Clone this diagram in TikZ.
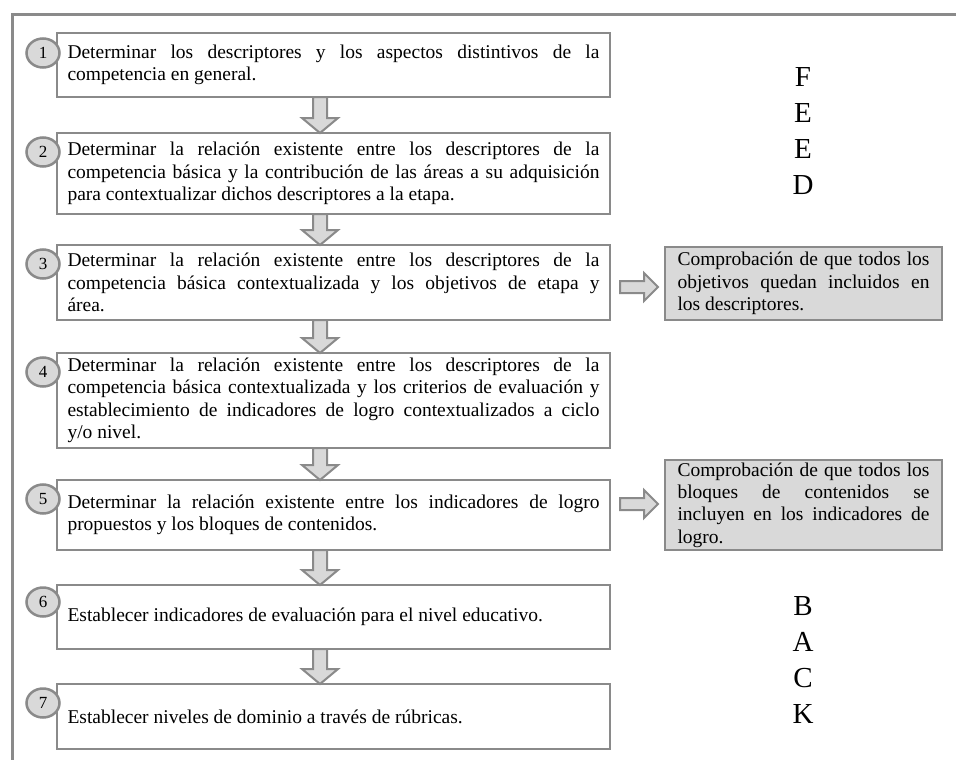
\documentclass[tikz,border=0pt]{standalone}
\usepackage{fontspec}
\setmainfont{Liberation Serif}
\usetikzlibrary{shapes.geometric,calc}
\definecolor{edgegray}{HTML}{8A8A8A}
\definecolor{fillgray}{HTML}{D9D9D9}
\newcommand\mainfs{\fontsize{19.5}{22.4}\selectfont\hyphenpenalty=10000\tolerance=10000\emergencystretch=20pt}
\tikzset{
  stepbox/.style={draw=edgegray, line width=2.6pt, fill=white, text width=532pt,
    inner xsep=10.5pt, inner ysep=0pt, outer sep=0pt, align=justify, font=\mainfs},
  sidebox/.style={draw=edgegray, line width=2.6pt, fill=fillgray, text width=252pt,
    minimum width=277pt, inner xsep=12.5pt, inner ysep=0pt, outer sep=0pt, align=justify, font=\mainfs},
  numdot/.style={ellipse, draw=edgegray, line width=2.5pt, fill=fillgray, minimum width=33pt,
    minimum height=29pt, inner sep=0pt, font=\fontsize{17}{17}\selectfont},
  blockarrow/.style={draw=edgegray, fill=fillgray, line width=2pt, line join=miter},
  frameline/.style={draw=edgegray, line width=3pt},
  bigletters/.style={align=center, font=\fontsize{29}{36}\selectfont, inner sep=0pt}
}
\newcommand\vblock[2]{%
  \path (#1.south -| ax) coordinate (vt) (#2.north -| ax) coordinate (vb);
  \draw[blockarrow] ($(vt)+(-7,0)$) -- ($(vb)+(-7,-15)$) -- ($(vb)+(-18,-15)$) -- (vb)
    -- ($(vb)+(18,-15)$) -- ($(vb)+(7,-15)$) -- ($(vt)+(7,0)$) -- cycle;}
\newcommand\hblock[3]{%
  \path ($(#1.east |- #2.west)+(10,#3)$) coordinate (hs) ($(#2.west)+(-7,#3)$) coordinate (he);
  \draw[blockarrow] ($(hs)+(0,-6)$) -- ($(he)+(-14,-6)$) -- ($(he)+(-14,-14)$) -- (he)
    -- ($(he)+(-14,14)$) -- ($(he)+(-14,6)$) -- ($(hs)+(0,6)$) -- cycle;}
\begin{document}
\begin{tikzpicture}[x=1pt, y=-1pt]
\useasboundingbox (0,0) rectangle (956,760);
\fill[white] (0,0) rectangle (956,760);
% open frame
\draw[frameline] (12,760) -- (12,15) -- (956,15);
\coordinate (ax) at (320,0);

% main steps
\node[stepbox, minimum height=64pt] (s1) at (333.5,65)
  {Determinar los descriptores y los aspectos distintivos de la\linebreak competencia en general.};
\node[stepbox, minimum height=81pt] (s2) at (333.5,173.5)
  {Determinar la relación existente entre los descriptores de la\linebreak competencia básica y la contribución de las áreas a su adquisición\linebreak para contextualizar dichos descriptores a la etapa.};
\node[stepbox, minimum height=75pt] (s3) at (333.5,282.5)
  {Determinar la relación existente entre los descriptores de la\linebreak competencia básica contextualizada y los objetivos de etapa y\linebreak área.};
\node[stepbox, minimum height=95pt] (s4) at (333.5,400.5)
  {Determinar la relación existente entre los descriptores de la\linebreak competencia básica contextualizada y los criterios de evaluación y\linebreak establecimiento de indicadores de logro contextualizados a ciclo\linebreak y/o nivel.};
\node[stepbox, minimum height=70pt] (s5) at (333.5,515)
  {Determinar la relación existente entre los indicadores de logro\linebreak propuestos y los bloques de contenidos.};
\node[stepbox, minimum height=64pt] (s6) at (333.5,617)
  {Establecer indicadores de evaluación para el nivel educativo.};
\node[stepbox, minimum height=65pt] (s7) at (333.5,716.5)
  {Establecer niveles de dominio a través de rúbricas.};

% number badges
\node[numdot] (n1) at (43,53) {1};
\node[numdot] (n2) at (43,152) {2};
\node[numdot] (n3) at (43,264) {3};
\node[numdot] (n4) at (43,372) {4};
\node[numdot] (n5) at (43,499) {5};
\node[numdot] (n6) at (43,602) {6};
\node[numdot] (n7) at (43,703) {7};

% side checks
\node[sidebox, minimum height=73pt] (c1) at (803.5,283.5)
  {Comprobación de que todos los\linebreak objetivos quedan incluidos en\linebreak los descriptores.};
\node[sidebox, minimum height=90pt] (c2) at (803.5,505)
  {Comprobación de que todos los\linebreak bloques de contenidos se\linebreak incluyen en los indicadores de\linebreak logro.};

% vertical arrows
\vblock{s1}{s2}
\vblock{s2}{s3}
\vblock{s3}{s4}
\vblock{s4}{s5}
\vblock{s5}{s6}
\vblock{s6}{s7}

% horizontal arrows
\hblock{s3}{c1}{3.5}
\hblock{s5}{c2}{-1}

% side letters
\node[bigletters] (feed) at (803,131) {F\\E\\E\\D};
\node[bigletters] (back) at (803,660) {B\\A\\C\\K};
\end{tikzpicture}
\end{document}
